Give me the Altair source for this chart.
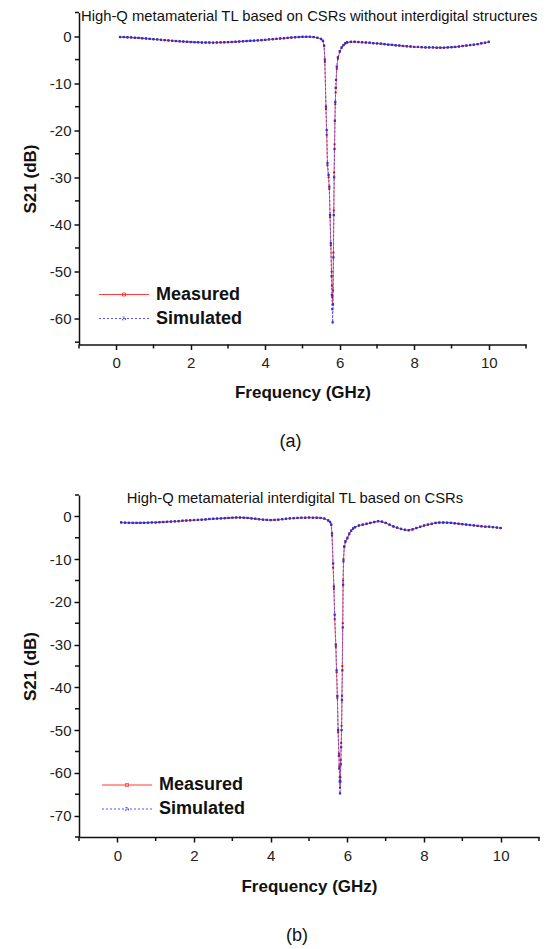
import altair as alt
import pandas as pd

# ---------------- data ----------------
freq = [0.1, 0.2, 0.3, 0.4, 0.5, 0.6, 0.7, 0.8, 0.9, 1.0,
        1.1, 1.2, 1.3, 1.4, 1.5, 1.6, 1.7, 1.8, 1.9, 2.0,
        2.1, 2.2, 2.3, 2.4, 2.5, 2.6, 2.7, 2.8, 2.9, 3.0,
        3.1, 3.2, 3.3, 3.4, 3.5, 3.6, 3.7, 3.8, 3.9, 4.0,
        4.1, 4.2, 4.3, 4.4, 4.5, 4.6, 4.7, 4.8, 4.9, 5.0,
        5.1, 5.2, 5.3, 5.4, 5.5,
        5.55, 5.58, 5.6, 5.63, 5.65, 5.67, 5.7, 5.72, 5.74, 5.76,
        5.78, 5.79, 5.8, 5.81, 5.82, 5.83, 5.84, 5.85, 5.86, 5.87,
        5.88, 5.89, 5.9, 5.92, 5.95, 6.0, 6.05, 6.1, 6.15, 6.2,
        6.3, 6.4, 6.5, 6.6, 6.7, 6.8, 6.9, 7.0, 7.1, 7.2,
        7.3, 7.4, 7.5, 7.6, 7.7, 7.8, 7.9, 8.0, 8.1, 8.2,
        8.3, 8.4, 8.5, 8.6, 8.7, 8.8, 8.9, 9.0, 9.1, 9.2,
        9.3, 9.4, 9.5, 9.6, 9.7, 9.8, 9.9, 10.0]

sim_a = [-0.2, -0.2, -0.25, -0.3, -0.35, -0.4, -0.45, -0.5, -0.6, -0.65,
         -0.7, -0.8, -0.85, -0.9, -1.0, -1.05, -1.1, -1.15, -1.2, -1.25,
         -1.3, -1.3, -1.35, -1.35, -1.35, -1.4, -1.35, -1.35, -1.3, -1.3,
         -1.25, -1.2, -1.15, -1.1, -1.05, -1.0, -0.95, -0.9, -0.85, -0.8,
         -0.7, -0.65, -0.6, -0.5, -0.45, -0.4, -0.3, -0.25, -0.2, -0.15,
         -0.15, -0.15, -0.2, -0.35, -0.6,
         -1.0, -2.0, -5.0, -15.0, -20.0, -27.0, -29.5, -32.0, -38.0, -44.0,
         -51.0, -55.0, -58.0, -60.8, -57.0, -47.0, -38.0, -30.0, -24.0, -18.0,
         -14.0, -11.0, -9.3, -6.5, -4.5, -3.2, -2.4, -1.9, -1.5, -1.3,
         -1.2, -1.2, -1.25, -1.3, -1.35, -1.4, -1.5, -1.55, -1.6, -1.7,
         -1.8, -1.85, -1.95, -2.0, -2.1, -2.15, -2.2, -2.3, -2.3, -2.35,
         -2.4, -2.4, -2.4, -2.45, -2.45, -2.45, -2.4, -2.35, -2.3, -2.2,
         -2.1, -2.0, -1.9, -1.8, -1.7, -1.5, -1.4, -1.2]

meas_a = [-0.25, -0.25, -0.3, -0.3, -0.4, -0.4, -0.5, -0.55, -0.6, -0.7,
          -0.75, -0.8, -0.9, -0.95, -1.0, -1.1, -1.15, -1.2, -1.25, -1.3,
          -1.3, -1.35, -1.4, -1.4, -1.4, -1.4, -1.4, -1.35, -1.35, -1.3,
          -1.3, -1.25, -1.2, -1.15, -1.1, -1.05, -1.0, -0.95, -0.9, -0.85,
          -0.75, -0.7, -0.6, -0.55, -0.5, -0.4, -0.35, -0.3, -0.25, -0.2,
          -0.2, -0.2, -0.25, -0.4, -0.7,
          -1.1, -2.1, -5.5, -15.5, -21.0, -27.5, -30.0, -32.5, -38.5, -44.5,
          -50.0, -53.0, -55.5, -57.0, -54.0, -46.0, -37.0, -29.0, -23.0, -18.0,
          -14.5, -12.0, -11.0, -7.0, -4.8, -3.4, -2.5, -2.0, -1.6, -1.4,
          -1.3, -1.25, -1.3, -1.35, -1.4, -1.45, -1.55, -1.6, -1.65, -1.75,
          -1.85, -1.9, -2.0, -2.05, -2.15, -2.2, -2.25, -2.35, -2.35, -2.4,
          -2.45, -2.45, -2.45, -2.5, -2.5, -2.5, -2.45, -2.4, -2.35, -2.25,
          -2.15, -2.05, -1.95, -1.85, -1.75, -1.6, -1.45, -1.3]

sim_b = [-1.4, -1.45, -1.5, -1.5, -1.5, -1.5, -1.5, -1.45, -1.4, -1.4,
         -1.35, -1.3, -1.25, -1.2, -1.15, -1.1, -1.0, -0.95, -0.9, -0.85,
         -0.8, -0.75, -0.7, -0.6, -0.55, -0.5, -0.45, -0.4, -0.35, -0.3,
         -0.25, -0.25, -0.3, -0.35, -0.45, -0.55, -0.65, -0.75, -0.8, -0.85,
         -0.8, -0.75, -0.65, -0.55, -0.45, -0.4, -0.35, -0.3, -0.3, -0.25,
         -0.3, -0.3, -0.35, -0.5, -0.9,
         -1.3, -1.9, -4.0, -11.0, -16.4, -23.0, -30.0, -36.0, -42.0, -50.0,
         -56.0, -59.0, -62.0, -64.8, -62.0, -58.0, -54.0, -50.0, -43.0, -36.0,
         -26.0, -16.0, -10.5, -7.0, -5.8, -5.0, -4.0, -3.3, -2.8, -2.5,
         -2.1, -1.9, -1.7, -1.5, -1.3, -1.1, -1.2, -1.5, -1.9, -2.3,
         -2.6, -2.9, -3.1, -3.2, -3.0, -2.7, -2.4, -2.1, -1.9, -1.7,
         -1.5, -1.4, -1.4, -1.45, -1.5, -1.6, -1.7, -1.8, -1.9, -2.0,
         -2.1, -2.2, -2.3, -2.4, -2.4, -2.5, -2.6, -2.7]

meas_b = [-1.45, -1.5, -1.5, -1.55, -1.55, -1.55, -1.5, -1.5, -1.45, -1.45,
          -1.4, -1.35, -1.3, -1.25, -1.2, -1.15, -1.05, -1.0, -0.95, -0.9,
          -0.85, -0.8, -0.75, -0.65, -0.6, -0.55, -0.5, -0.45, -0.4, -0.35,
          -0.3, -0.3, -0.35, -0.4, -0.5, -0.6, -0.7, -0.8, -0.85, -0.9,
          -0.85, -0.8, -0.7, -0.6, -0.5, -0.45, -0.4, -0.35, -0.35, -0.3,
          -0.35, -0.35, -0.4, -0.55, -1.0,
          -1.4, -2.0, -4.5, -12.0, -17.0, -24.0, -30.5, -36.5, -42.5, -50.5,
          -55.5, -58.5, -61.0, -63.5, -61.0, -57.0, -53.0, -49.0, -42.0, -35.0,
          -25.0, -15.0, -10.0, -7.2, -6.0, -5.2, -4.2, -3.4, -2.9, -2.6,
          -2.2, -2.0, -1.8, -1.6, -1.4, -1.2, -1.3, -1.6, -2.0, -2.4,
          -2.7, -3.0, -3.2, -3.3, -3.1, -2.8, -2.5, -2.2, -2.0, -1.8,
          -1.6, -1.5, -1.5, -1.5, -1.55, -1.65, -1.75, -1.85, -1.95, -2.05,
          -2.15, -2.25, -2.35, -2.45, -2.45, -2.55, -2.65, -2.75]

series_names = ["Measured", "Simulated"]
x_major = [0, 2, 4, 6, 8, 10]
x_minor = [-1, 1, 3, 5, 7, 9, 11]
y_major_a = [-60, -50, -40, -30, -20, -10, 0]
y_minor_a = [-65, -55, -45, -35, -25, -15, -5, 5]
y_major_b = [-70, -60, -50, -40, -30, -20, -10, 0]
y_minor_b = [-75, -65, -55, -45, -35, -25, -15, -5, 5]
title_a = "High-Q metamaterial TL based on CSRs without interdigital structures"
title_b = "High-Q metamaterial interdigital TL based on CSRs"

FONT = "Liberation Sans"
RED = "#ff3b3b"
BLUE = "#5050ff"
INK = "#111111"


def long_df(meas, sim):
    rows = []
    for f, m in zip(freq, meas):
        rows.append({"f": f, "s21": m, "series": series_names[0]})
    for f, s in zip(freq, sim):
        rows.append({"f": f, "s21": s, "series": series_names[1]})
    return pd.DataFrame(rows)


LEG_SYMBOL = "M-2,0H2M-0.12,-0.12H0.12V0.12H-0.12Z"


def legend(leg_x, leg_y):
    return alt.Legend(title=None, orient="none", legendX=leg_x, legendY=leg_y,
                      symbolType=LEG_SYMBOL, symbolSize=625,
                      symbolStrokeWidth=1, labelFont=FONT,
                      labelFontSize=18, labelFontWeight="bold",
                      labelColor=INK, labelOffset=19, rowPadding=2,
                      padding=0)


def panel(meas, sim, ydom, y_major, y_minor, w, h, title, anchor, title_dx, title_offset,
          leg_x, leg_y, caption, cap_y, lab_pad, tit_pad):
    df = long_df(meas, sim)
    xscale = alt.Scale(domain=[-1, 11], nice=False, zero=False)
    yscale = alt.Scale(domain=ydom, nice=False, zero=False)
    x_axis = alt.Axis(values=x_major, title="Frequency (GHz)", tickSize=5, grid=False,
                      labelPadding=lab_pad, titlePadding=tit_pad, labelFlush=False)
    y_axis = alt.Axis(values=y_major, title="S21 (dB)", tickSize=5, grid=False,
                      labelPadding=3, titlePadding=10)
    color = alt.Color("series:N", scale=alt.Scale(domain=series_names, range=[RED, BLUE]),
                      legend=legend(leg_x, leg_y))
    dash = alt.StrokeDash("series:N", scale=alt.Scale(domain=series_names, range=[[1, 0], [2, 2]]),
                          legend=legend(leg_x, leg_y))
    lines = alt.Chart(df).mark_line(strokeWidth=1).encode(
        x=alt.X("f:Q", scale=xscale, axis=x_axis),
        y=alt.Y("s21:Q", scale=yscale, axis=y_axis),
        color=color, strokeDash=dash,
        detail="series:N",
    )
    pts_m = alt.Chart(df[df.series == series_names[0]]).mark_point(
        shape="circle", filled=True, size=5, color="#b01030", opacity=1).encode(
        x=alt.X("f:Q", scale=xscale), y=alt.Y("s21:Q", scale=yscale))
    pts_s = alt.Chart(df[df.series == series_names[1]]).mark_point(
        shape="square", filled=True, size=5, color="#3030c8", opacity=1).encode(
        x=alt.X("f:Q", scale=xscale), y=alt.Y("s21:Q", scale=yscale))
    xminor = alt.Chart(pd.DataFrame({"v": x_minor})).mark_rule(
        color=INK, strokeWidth=1.5).encode(
        x=alt.X("v:Q", scale=xscale), y=alt.value(h), y2=alt.value(h + 4))
    yminor = alt.Chart(pd.DataFrame({"v": y_minor})).mark_rule(
        color=INK, strokeWidth=1.5).encode(
        y=alt.Y("v:Q", scale=yscale), x=alt.value(0), x2=alt.value(-4))
    cap = alt.Chart(pd.DataFrame({"t": [caption]})).mark_text(
        font=FONT, fontSize=18, color=INK, baseline="middle", align="center").encode(
        text="t:N", x=alt.value(w / 2 - 12), y=alt.value(cap_y))
    return alt.layer(lines, pts_m, pts_s, xminor, yminor, cap).properties(
        width=w, height=h,
        title=alt.TitleParams(title, anchor=anchor, frame="group", dx=title_dx,
                              offset=title_offset, font=FONT, fontSize=14.8,
                              fontWeight="normal", color=INK),
    )


pa = panel(meas_a, sim_a, [-65.5, 5], y_major_a, y_minor_a, 447, 332, title_a, "start", 2, -12,
           32, 269, "(a)", 429.5, 6, 14)
pb = panel(meas_b, sim_b, [-75, 5], y_major_b, y_minor_b, 460, 342, title_b, "middle", -14, -12,
           35, 277, "(b)", 441, 6, 15)

chart = alt.vconcat(pa, pb, spacing=39.5).resolve_scale(
    color="independent", strokeDash="independent").properties(
    padding={"left": 21, "top": 8.5, "right": 0, "bottom": 0}
).configure_view(stroke=None).configure_axis(
    domainColor=INK, domainWidth=1.5, tickColor=INK, tickWidth=1.5,
    labelFont=FONT, labelFontSize=15, labelColor="#222",
    titleFont=FONT, titleFontSize=17, titleFontWeight="bold", titleColor=INK,
).configure_title(font=FONT)

chart.save("out.html", embed_options={
    "renderer": "svg", "actions": False,
    "formatLocale": {"decimal": ".", "thousands": ",", "grouping": [3],
                     "currency": ["$", ""], "minus": "-"},
})
